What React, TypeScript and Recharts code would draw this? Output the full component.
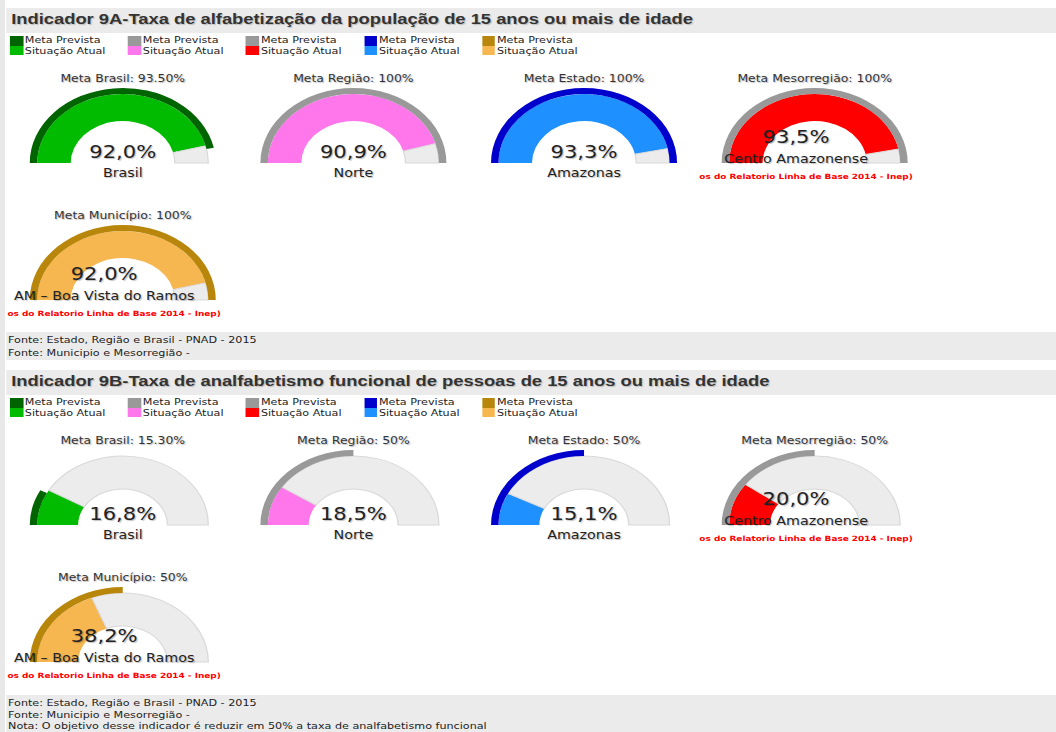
import React from 'react';
import { PieChart, Pie, Cell } from 'recharts';

// the screenshot is stretched sideways, so the page is laid out narrow and scaled
const STRETCH = 1.24;
const PAGE_W = 852;

const regions = ['Brasil', 'Norte', 'Amazonas', 'Centro Amazonense', 'AM – Boa Vista do Ramos'];
const metaNames = ['Meta Brasil', 'Meta Região', 'Meta Estado', 'Meta Mesorregião', 'Meta Município'];
const metaColors = ['#006400', '#999999', '#0000cc', '#999999', '#b8860b'];
const atualColors = ['#00bb00', '#ff77ea', '#1e90ff', '#ff0000', '#f6b650'];
// legend goes Brasil, Região, Mesorregião, Estado, Município
const legendOrder = [0, 1, 3, 2, 4];

const meta9A = [93.5, 100, 100, 100, 100];
const atual9A = [92.0, 90.9, 93.3, 93.5, 92.0];
const meta9B = [15.3, 50, 50, 50, 50];
const atual9B = [16.8, 18.5, 15.1, 20.0, 38.2];

const title9A = 'Indicador 9A-Taxa de alfabetização da população de 15 anos ou mais de idade';
const title9B = 'Indicador 9B-Taxa de analfabetismo funcional de pessoas de 15 anos ou mais de idade';
const footer9A = ['Fonte: Estado, Região e Brasil - PNAD - 2015', 'Fonte: Municipio e Mesorregião -'];
const footer9B = [
    'Fonte: Estado, Região e Brasil - PNAD - 2015',
    'Fonte: Municipio e Mesorregião -',
    'Nota: O objetivo desse indicador é reduzir em 50% a taxa de analfabetismo funcional',
];
const sourceNote = 'os do Relatorio Linha de Base 2014 - Inep)';

const SMALL = "'DejaVu Sans', Verdana, sans-serif";
const BAND = '#ebebeb';
const gaugeX = [99, 285, 471, 657, 99];

const fmtMeta = (v: number) => (Number.isInteger(v) ? `${v}%` : `${v.toFixed(2)}%`);
const fmtValue = (v: number) => `${v.toFixed(1).replace('.', ',')}%`;

const centered = (x: number, y: number): React.CSSProperties => ({
    position: 'absolute', left: x, top: y, transform: 'translate(-50%, -50%)', whiteSpace: 'nowrap',
});

interface GaugeProps {
    i: number;
    bottom: number;
    meta: number;
    value: number;
    hole: number;
}

const Gauge: React.FC<GaugeProps> = ({ i, bottom, meta, value, hole }) => {
    const W = 186, H = 130, cy = 100;
    const long = i >= 3;
    const shadow = '1px 1px 1px rgba(0,0,0,0.25)';
    const valueData = [{ name: 'atual', value }, { name: 'resto', value: 100 - value }];
    const metaData = [{ name: 'meta', value: meta }, { name: 'resto', value: 100 - meta }];
    const shift = long ? -15 : 0;
    return (
        <div style={{ position: 'absolute', left: gaugeX[i] - W / 2, top: bottom - cy, width: W, height: H }}>
            <PieChart width={W} height={H} margin={{ top: 0, right: 0, bottom: 0, left: 0 }}>
                <Pie data={valueData} dataKey="value" cx={W / 2} cy={cy} startAngle={180} endAngle={0}
                    innerRadius={hole} outerRadius={69} isAnimationActive={false}>
                    <Cell fill={atualColors[i]} stroke="none" />
                    <Cell fill="#ececec" stroke="#d8d8d8" />
                </Pie>
                <Pie data={metaData} dataKey="value" cx={W / 2} cy={cy} startAngle={180} endAngle={0}
                    innerRadius={69} outerRadius={75} isAnimationActive={false}>
                    <Cell fill={metaColors[i]} stroke="none" />
                    <Cell fill="none" stroke="none" />
                </Pie>
            </PieChart>
            <div style={{ ...centered(W / 2, cy - 85), font: `10px ${SMALL}`, color: '#333', textShadow: shadow }}>
                {metaNames[i]}: {fmtMeta(meta)}
            </div>
            <div style={{ ...centered(W / 2 + shift, cy + (long ? -26 : -11)), font: `17px ${SMALL}`, color: '#222', textShadow: shadow }}>
                {fmtValue(value)}
            </div>
            <div style={{ ...centered(W / 2 + shift, cy + (long ? -4 : 10)), font: `11.5px ${SMALL}`, color: '#222', textShadow: shadow }}>
                {regions[i]}
            </div>
            {long &&
                <div style={{ position: 'absolute', left: 0, top: cy + 8.5, font: `bold 7.2px ${SMALL}`, color: '#ff0000', whiteSpace: 'nowrap' }}>
                    {sourceNote}
                </div>
            }
        </div>
    );
};

interface SectionProps {
    top: number;
    title: string;
    meta: number[];
    atual: number[];
    hole: number;
    footer: string[];
    footerTop: number;
    footerHeight: number;
    lineGap: number;
}

const Section: React.FC<SectionProps> = ({ top, title, meta, atual, hole, footer, footerTop, footerHeight, lineGap }) => (
    <>
        <div style={{ position: 'absolute', left: 5, top, width: PAGE_W - 5, height: 25, background: BAND }} />
        <div style={{ position: 'absolute', left: 9, top: top + 3, font: "bold 14.8px 'Liberation Sans', Arial, sans-serif", color: '#333', whiteSpace: 'nowrap', textShadow: '1px 1px 1px rgba(0,0,0,0.2)' }}>
            {title}
        </div>
        {legendOrder.map((g, k) => (
            <React.Fragment key={k}>
                <div style={{ position: 'absolute', left: 8 + k * 95.2, top: top + 28, width: 10.5, height: 9.5, background: metaColors[g] }} />
                <div style={{ position: 'absolute', left: 8 + k * 95.2, top: top + 37.5, width: 10.5, height: 9.5, background: atualColors[g] }} />
                <div style={{ position: 'absolute', left: 20 + k * 95.2, top: top + 27, font: `9px ${SMALL}`, color: '#222', lineHeight: '11px', whiteSpace: 'nowrap' }}>
                    Meta Prevista<br />Situação Atual
                </div>
            </React.Fragment>
        ))}
        {meta.map((m, i) => (
            <Gauge key={i} i={i} bottom={top + (i < 4 ? 155 : 292)} meta={m} value={atual[i]} hole={hole} />
        ))}
        <div style={{ position: 'absolute', left: 5, top: footerTop, width: PAGE_W - 5, height: footerHeight, background: BAND }} />
        {footer.map((t, k) => (
            <div key={k} style={{ position: 'absolute', left: 6.5, top: footerTop + 2 + k * lineGap, font: `9px ${SMALL}`, color: '#222', lineHeight: '12px', whiteSpace: 'nowrap' }}>
                {t}
            </div>
        ))}
    </>
);

export default function App() {
    return (
        <div style={{ position: 'absolute', left: 0, top: 0, width: 1056, height: 732, overflow: 'hidden', background: '#fff' }}>
            <div style={{ position: 'absolute', left: 0, top: 0, width: PAGE_W, height: 732, transform: `scaleX(${STRETCH})`, transformOrigin: '0 0' }}>
                <div style={{ position: 'absolute', left: 0, top: 0, width: 4, height: 732, background: '#e8e8e8' }} />
                <Section top={8} title={title9A} meta={meta9A} atual={atual9A} hole={42}
                    footer={footer9A} footerTop={332} footerHeight={28} lineGap={12.8} />
                <Section top={370} title={title9B} meta={meta9B} atual={atual9B} hole={36}
                    footer={footer9B} footerTop={695} footerHeight={40} lineGap={11.5} />
            </div>
        </div>
    );
}
